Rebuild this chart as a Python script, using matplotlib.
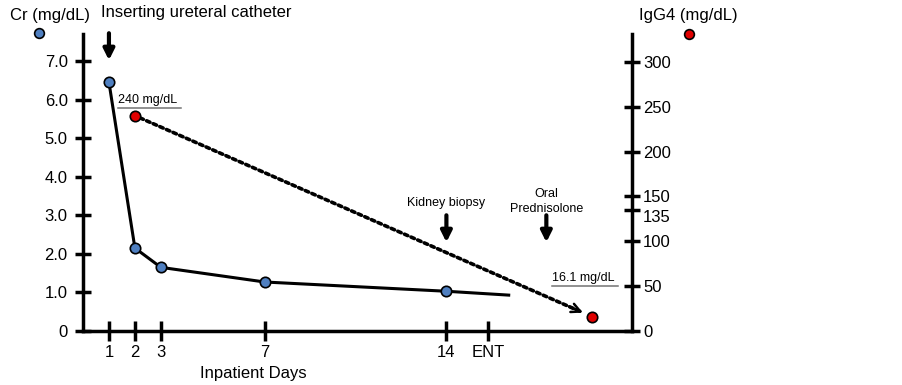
import numpy as np
import matplotlib.pyplot as plt
from matplotlib.lines import Line2D

plt.rcParams['font.family'] = ['Liberation Sans', 'DejaVu Sans']

# creatinine (left axis)
cr_days = [1, 2, 3, 7, 14]
cr_vals = [6.45, 2.15, 1.65, 1.27, 1.03]
cr_tail_day = 16.4
cr_tail_val = 0.93

# IgG4 (right axis)
igg_days = [2, 19.6]
igg_vals = [240, 16.1]

xtick_pos = [1, 2, 3, 7, 14, 15.6]
xtick_labels = ["1", "2", "3", "7", "14", "ENT"]
cr_ticks = [0, 1, 2, 3, 4, 5, 6, 7]
cr_ticklabels = ["0", "1.0", "2.0", "3.0", "4.0", "5.0", "6.0", "7.0"]
igg_ticks = [0, 50, 100, 135, 150, 200, 250, 300]

events = ["Kidney biopsy", "Oral\nPrednisolone"]
event_days = [14, 17.85]

blue = "#4f7fc0"
red = "#e00000"

fig = plt.figure(figsize=(9.03, 3.85), dpi=100)
ax = fig.add_axes([0.0919, 0.1403, 0.608, 0.7714])
ax2 = ax.twinx()

ax.set_xlim(0, 21.15)
ax.set_ylim(0, 7.7)
ax2.set_ylim(0, 331)

for a in (ax, ax2):
    a.spines['top'].set_visible(False)
    for s in a.spines.values():
        s.set_linewidth(2.5)
ax.spines['right'].set_visible(False)
ax2.spines['left'].set_visible(False)
ax2.spines['bottom'].set_visible(False)

ax.set_xticks(xtick_pos)
ax.set_xticklabels(xtick_labels)
ax.set_yticks(cr_ticks)
ax.set_yticklabels(cr_ticklabels)
ax2.set_yticks(igg_ticks, [str(v) for v in igg_ticks])
ax.tick_params(axis='x', direction='inout', length=14, width=2.5, labelsize=12, pad=3)
ax.tick_params(axis='y', direction='inout', length=12, width=2.5, labelsize=12, pad=5)
ax2.tick_params(axis='y', direction='inout', length=12, width=2.5, labelsize=12, pad=2)

# Cr line
ax.plot(cr_days + [cr_tail_day], cr_vals + [cr_tail_val], color='black', lw=2.2, zorder=3)
ax.plot(cr_days, cr_vals, 'o', color=blue, mec='black', mew=1.2, ms=7.5, zorder=4)

# IgG4 dotted trend with arrow head
start = np.array([igg_days[0], igg_vals[0]])
end = np.array([igg_days[1], igg_vals[1]])
ax2.annotate('', xy=end, xytext=start,
             arrowprops=dict(arrowstyle='-', ls=(0, (1, 1)), lw=2.6, color='black',
                             shrinkA=4, shrinkB=9))
ax2.annotate('', xy=end, xytext=end - 0.05 * (end - start),
             arrowprops=dict(arrowstyle='->', lw=1.8, color='black', shrinkA=0,
                             shrinkB=7, mutation_scale=16))
ax2.plot(igg_days, igg_vals, 'o', color=red, mec='black', mew=1.2, ms=7.5, zorder=5,
         clip_on=False)

# event arrows
arrow_kw = dict(arrowstyle='-|>', lw=3, color='black', mutation_scale=16,
                shrinkA=0, shrinkB=0)
ax.annotate('', xy=(1, 7.02), xytext=(1, 7.72), arrowprops=arrow_kw, annotation_clip=False)
ax.text(0.7, 8.26, "Inserting ureteral catheter", fontsize=12, ha='left', va='center')
for label, day in zip(events, event_days):
    ax.annotate('', xy=(day, 2.3), xytext=(day, 3.0), arrowprops=arrow_kw)
    ty = 3.02 if "\n" in label else 3.15
    ax.text(day, ty, label, fontsize=9, ha='center', va='bottom', linespacing=1.3)

fig.canvas.draw()
renderer = fig.canvas.get_renderer()

# the 135 label sits a bit lower in the original so it clears 150
for lbl in ax2.yaxis.get_ticklabels():
    if lbl.get_text() == "135":
        lbl.set_verticalalignment('top')

# value labels with underline
for txt in [ax.text(1.35, 5.98, "240 mg/dL", fontsize=9, ha='left', va='center'),
            ax.text(18.05, 1.37, "16.1 mg/dL", fontsize=9, ha='left', va='center')]:
    bb = txt.get_window_extent(renderer).transformed(fig.transFigure.inverted())
    fig.add_artist(Line2D([bb.x0, bb.x1 + 0.004], [bb.y0 - 0.004, bb.y0 - 0.004],
                          color='0.45', lw=1.1))

# axis titles and marker keys
fig.text(0.011, 0.961, "Cr (mg/dL)", fontsize=12, ha='left', va='center')
fig.text(0.762, 0.961, "IgG4 (mg/dL)", fontsize=12, ha='center', va='center')
fig.add_artist(Line2D([0.0432], [0.914], marker='o', color=blue, mec='black', mew=1.2, ms=7))
fig.add_artist(Line2D([0.763], [0.912], marker='o', color=red, mec='black', mew=1.2, ms=7))
fig.text(0.28, 0.031, "Inpatient Days", fontsize=12, ha='center', va='center')

plt.savefig("out.png", dpi=100)
